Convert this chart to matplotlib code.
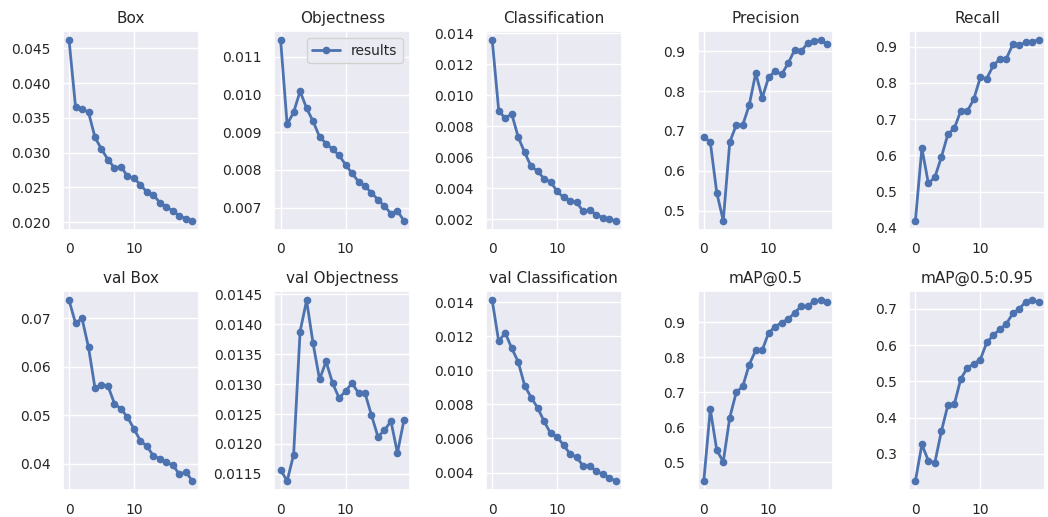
import matplotlib
matplotlib.use("Agg")
import matplotlib.pyplot as plt
import seaborn as sns
import numpy as np

# Training results (20 epochs)
epochs = list(range(20))
titles = ['Box', 'Objectness', 'Classification', 'Precision', 'Recall',
          'val Box', 'val Objectness', 'val Classification', 'mAP@0.5', 'mAP@0.5:0.95']

box = [0.0462, 0.0366, 0.0363, 0.0358, 0.0322, 0.0305, 0.0290, 0.0278, 0.0280, 0.0266,
       0.0263, 0.0254, 0.0243, 0.0239, 0.0228, 0.0222, 0.0216, 0.0209, 0.0205, 0.0202]
objectness = [0.01145, 0.00921, 0.00953, 0.01009, 0.00964, 0.00929, 0.00888, 0.00870, 0.00855, 0.00839,
              0.00814, 0.00791, 0.00769, 0.00757, 0.00739, 0.00721, 0.00704, 0.00684, 0.00691, 0.00665]
classification = [0.01355, 0.0090, 0.0085, 0.0088, 0.0073, 0.0063, 0.0054, 0.0051, 0.0046, 0.0044,
                  0.0038, 0.0034, 0.0032, 0.0031, 0.0025, 0.0026, 0.0023, 0.0021, 0.0020, 0.0019]
precision = [0.685, 0.672, 0.545, 0.475, 0.672, 0.715, 0.715, 0.765, 0.845, 0.783,
             0.835, 0.850, 0.842, 0.870, 0.903, 0.900, 0.920, 0.925, 0.928, 0.918]
recall = [0.420, 0.620, 0.523, 0.540, 0.595, 0.658, 0.675, 0.723, 0.722, 0.755,
          0.815, 0.812, 0.848, 0.865, 0.866, 0.906, 0.903, 0.912, 0.914, 0.918]
val_box = [0.0737, 0.0690, 0.0700, 0.0640, 0.0556, 0.0563, 0.0560, 0.0524, 0.0513, 0.0496,
           0.0472, 0.0447, 0.0436, 0.0416, 0.0410, 0.0403, 0.0397, 0.0378, 0.0383, 0.0364]
val_objectness = [0.01157, 0.01138, 0.01182, 0.01388, 0.01440, 0.01368, 0.01308, 0.01338, 0.01302, 0.01277,
                  0.01288, 0.01302, 0.01285, 0.01285, 0.01248, 0.01212, 0.01223, 0.01238, 0.01185, 0.01240]
val_classification = [0.0141, 0.0117, 0.0122, 0.0113, 0.0105, 0.0091, 0.0084, 0.0078, 0.0070, 0.0063,
                      0.0061, 0.0056, 0.0051, 0.0049, 0.0044, 0.0044, 0.0041, 0.0039, 0.0037, 0.0035]
map50 = [0.447, 0.652, 0.535, 0.502, 0.628, 0.700, 0.717, 0.779, 0.820, 0.820,
         0.870, 0.887, 0.899, 0.908, 0.927, 0.945, 0.945, 0.960, 0.962, 0.958]
map50_95 = [0.225, 0.326, 0.281, 0.276, 0.362, 0.434, 0.437, 0.507, 0.537, 0.548,
            0.560, 0.607, 0.627, 0.643, 0.658, 0.687, 0.700, 0.719, 0.723, 0.718]

series = [box, objectness, classification, precision, recall,
          val_box, val_objectness, val_classification, map50, map50_95]

sns.set_theme(style='darkgrid')
plt.rcParams['font.family'] = ['DejaVu Sans']

fig, axes = plt.subplots(2, 5, figsize=(10.48, 5.17), dpi=100)
axes = axes.ravel()

for i, ax in enumerate(axes):
    ax.plot(epochs, series[i], marker='.', markersize=9, linewidth=2,
            color='#4c72b0', label='results')
    ax.set_title(titles[i], fontsize=11)
    ax.set_xticks([0, 10])
    ax.tick_params(labelsize=10, pad=3)
    if i == 1:
        ax.legend(loc='upper right', fontsize=10)

plt.subplots_adjust(left=0.06, right=0.997, top=0.94, bottom=0.052,
                    wspace=0.56, hspace=0.31)
plt.savefig('out.png', dpi=100)
plt.close()
